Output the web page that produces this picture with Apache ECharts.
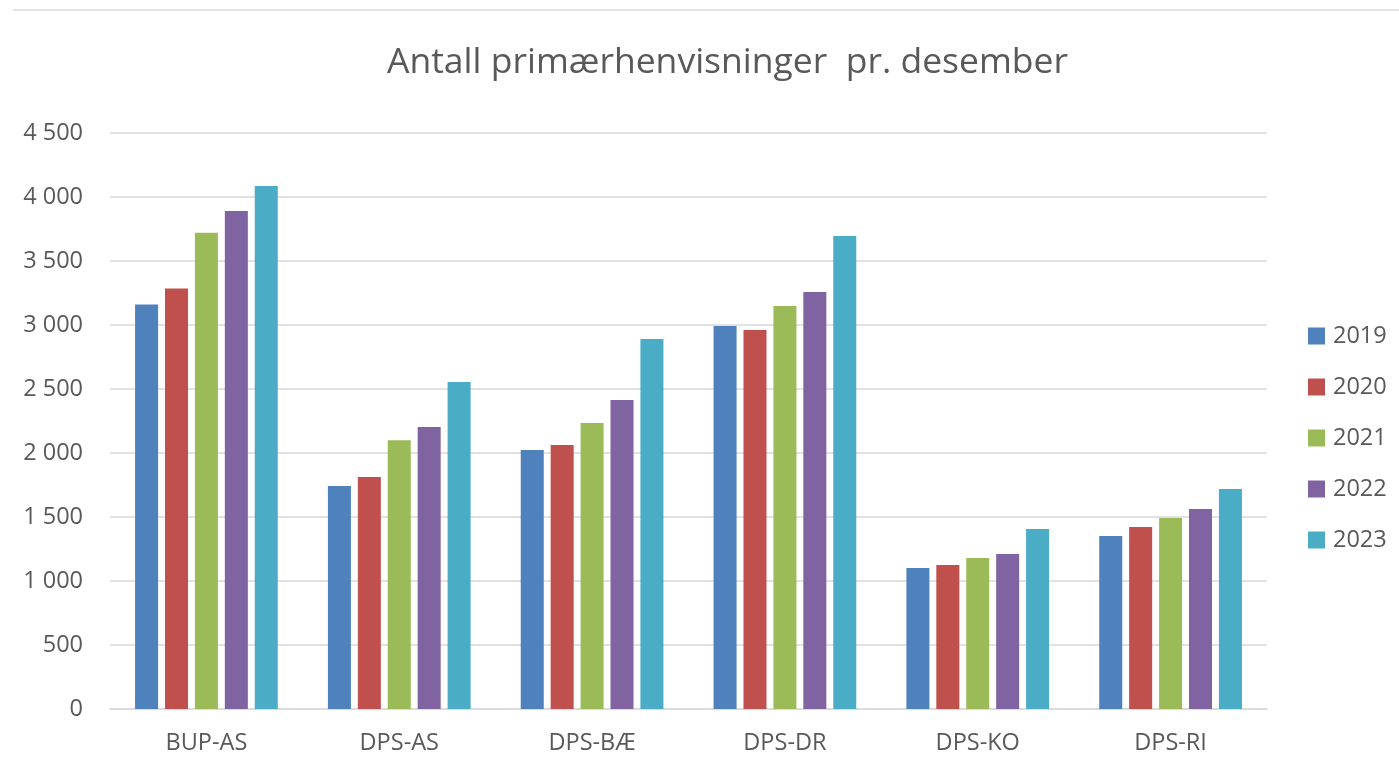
<!DOCTYPE html>
<html>
<head>
<meta charset="utf-8">
<script src="https://cdn.jsdelivr.net/npm/echarts@6/dist/echarts.min.js"></script>
<style>
  html, body { margin: 0; padding: 0; background: #fff; }
  #chart { width: 1399px; height: 779px; }
</style>
</head>
<body>
<div id="chart"></div>
<script>
const categories = ["BUP-AS", "DPS-AS", "DPS-BÆ", "DPS-DR", "DPS-KO", "DPS-RI"];
const years = ["2019", "2020", "2021", "2022", "2023"];
const v2019 = [3160, 1742, 2023, 2992, 1102, 1352];
const v2020 = [3285, 1812, 2063, 2961, 1125, 1422];
const v2021 = [3720, 2100, 2234, 3148, 1180, 1492];
const v2022 = [3890, 2203, 2414, 3258, 1211, 1563];
const v2023 = [4086, 2555, 2891, 3695, 1406, 1719];
const seriesValues = [v2019, v2020, v2021, v2022, v2023];
const colors = ["#4F81BD", "#C0504D", "#9BBB59", "#8064A2", "#4BACC6"];

const fontFam = "'Open Sans', 'Liberation Sans', sans-serif";
const textColor = "#595959";

const myChart = echarts.init(document.getElementById("chart"));

const option = {
  animation: false,
  color: colors,
  title: {
    text: "Antall primærhenvisninger  pr. desember",
    left: 387,
    top: 45,
    padding: 0,
    textStyle: { fontSize: 35.5, fontWeight: "normal", color: textColor, fontFamily: fontFam },
  },
  graphic: [
    {
      type: "line",
      shape: { x1: 13, y1: 10, x2: 1399, y2: 10 },
      style: { stroke: "#d9d9d9", lineWidth: 1.5 },
    },
  ],
  legend: {
    orient: "vertical",
    left: 1308,
    top: 324,
    padding: 0,
    itemWidth: 17,
    itemHeight: 17,
    itemGap: 27,
    icon: "rect",
    textStyle: { fontSize: 23.5, color: textColor, fontFamily: fontFam, padding: [0, 0, 0, 3] },
    data: years,
  },
  grid: { left: 110, right: 132, top: 133, bottom: 70, containLabel: false },
  xAxis: {
    type: "category",
    data: categories,
    axisLine: { lineStyle: { color: "#d9d9d9", width: 1.5 } },
    axisTick: { show: false },
    axisLabel: { fontSize: 23.5, color: textColor, fontFamily: fontFam, margin: 22 },
  },
  yAxis: {
    type: "value",
    min: 0,
    max: 4500,
    interval: 500,
    axisLine: { show: false },
    axisTick: { show: false },
    splitLine: { lineStyle: { color: "#d9d9d9", width: 1.5 } },
    axisLabel: {
      fontSize: 23.5,
      color: textColor,
      fontFamily: fontFam,
      margin: 27,
      formatter: (v) => String(v).replace(/\B(?=(\d{3})+(?!\d))/g, " "),
    },
  },
  series: years.map((y, i) => ({
    name: y,
    type: "bar",
    data: seriesValues[i],
    barGap: "30%",
    barCategoryGap: "26%",
    itemStyle: { color: colors[i] },
  })),
};

myChart.setOption(option);
</script>
</body>
</html>
